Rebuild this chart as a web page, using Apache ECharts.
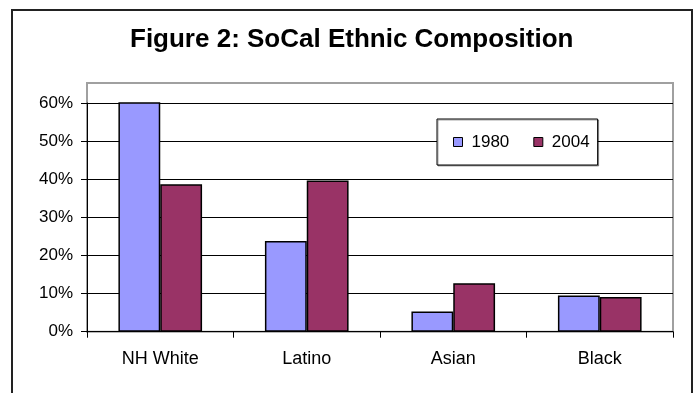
<!DOCTYPE html>
<html>
<head>
<meta charset="utf-8">
<script src="https://cdn.jsdelivr.net/npm/echarts@6/dist/echarts.min.js"></script>
<style>
  html, body { margin: 0; padding: 0; background: #fff; }
  #chart { width: 694px; height: 393px; }
</style>
</head>
<body>
<div id="chart"></div>
<script>
// Population share by ethnic group, Southern California
const categories = ['NH White', 'Latino', 'Asian', 'Black'];
const share1980 = [0.608, 0.238, 0.053, 0.095];
const share2004 = [0.387, 0.397, 0.127, 0.091];
const seriesNames = ['1980', '2004'];
const titleText = 'Figure 2: SoCal Ethnic Composition';

const FONT = '"Liberation Sans", Arial, sans-serif';

const chart = echarts.init(document.getElementById('chart'), null, { renderer: 'canvas' });

const pct = v => Math.round(v * 100) + '%';

chart.setOption({
  animation: false,
  backgroundColor: '#fff',
  title: {
    text: titleText,
    left: 130,
    top: 27,
    padding: 0,
    textStyle: { fontFamily: FONT, fontSize: 26, fontWeight: 'bold', color: '#000' }
  },
  graphic: [
    // outer chart frame
    {
      type: 'rect', z: 0,
      shape: { x: 12, y: 10, width: 680, height: 400 },
      style: { fill: null, stroke: '#222', lineWidth: 2 }
    },
    // plot area frame
    {
      type: 'rect', z: 0,
      shape: { x: 87, y: 83, width: 586, height: 248.7 },
      style: { fill: null, stroke: '#a0a0a0', lineWidth: 2 }
    }
  ],
  legend: {
    data: seriesNames,
    left: 437,
    top: 119,
    orient: 'horizontal',
    padding: [14, 8, 14, 16],
    itemGap: 24,
    itemWidth: 9,
    itemHeight: 9,
    icon: 'rect',
    backgroundColor: '#fff',
    borderColor: '#000',
    borderWidth: 1,
    shadowColor: 'rgba(0,0,0,0.35)',
    shadowOffsetX: 1,
    shadowOffsetY: 1,
    shadowBlur: 0,
    itemStyle: { borderColor: '#000', borderWidth: 1 },
    textStyle: { fontFamily: FONT, fontSize: 17, color: '#000', lineHeight: 18, padding: [0, 0, 0, 4] }
  },
  grid: {
    left: 87,
    right: 21,
    top: 103,
    bottom: 61.3,
    containLabel: false
  },
  xAxis: {
    type: 'category',
    data: categories,
    axisLine: { show: true, lineStyle: { color: '#000', width: 1 } },
    axisTick: { show: true, length: 6, lineStyle: { color: '#000', width: 1 } },
    axisLabel: { fontFamily: FONT, fontSize: 18, color: '#000', margin: 18 }
  },
  yAxis: {
    type: 'value',
    min: 0,
    max: 0.6,
    interval: 0.1,
    axisLine: { show: true, lineStyle: { color: '#000', width: 1 } },
    axisTick: { show: true, length: 6, lineStyle: { color: '#000', width: 1 } },
    axisLabel: { fontFamily: FONT, fontSize: 17, color: '#000', margin: 14, formatter: pct },
    splitLine: { show: true, lineStyle: { color: '#000', width: 1 } }
  },
  series: [
    {
      name: seriesNames[0],
      type: 'bar',
      data: share1980,
      barGap: '0%',
      barCategoryGap: '42.9%',
      itemStyle: { color: '#9999ff', borderColor: '#000', borderWidth: 1.5 }
    },
    {
      name: seriesNames[1],
      type: 'bar',
      data: share2004,
      barGap: '0%',
      barCategoryGap: '42.9%',
      itemStyle: { color: '#993366', borderColor: '#000', borderWidth: 1.5 }
    }
  ]
});
</script>
</body>
</html>
